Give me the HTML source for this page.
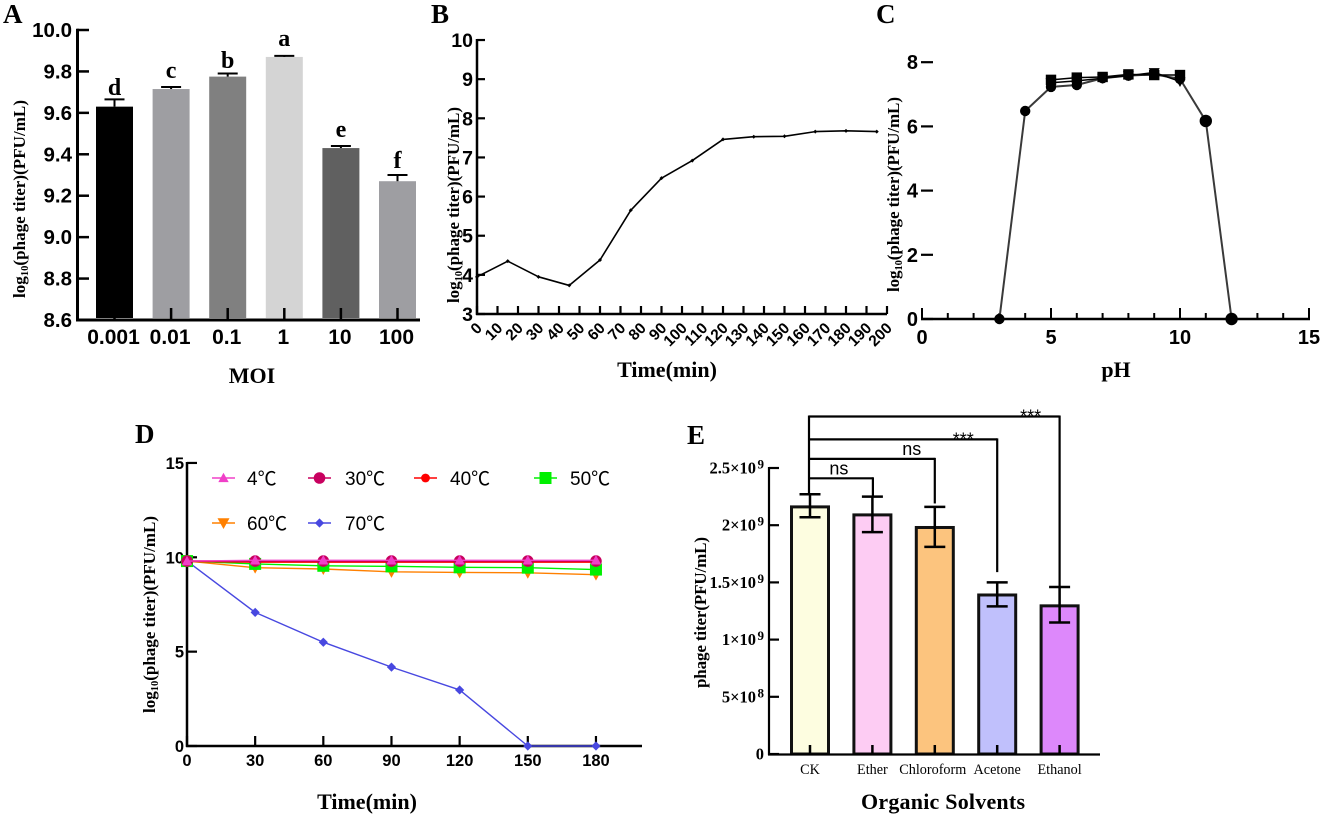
<!DOCTYPE html>
<html lang="en">
<head>
<meta charset="utf-8">
<title>Phage characterisation panels</title>
<style>
html,body{margin:0;padding:0;background:#fff;width:1325px;height:819px;overflow:hidden}
svg{display:block}
text{fill:#000}
.sans{font-family:"Liberation Sans",sans-serif}
.serif{font-family:"Liberation Serif",serif}
.bold{font-weight:bold}
.panel{font-family:"Liberation Serif",serif;font-weight:bold;font-size:27px}
.title{font-family:"Liberation Serif",serif;font-weight:bold;font-size:22px;text-anchor:middle}
.ytitle{font-family:"Liberation Serif",serif;font-weight:bold;font-size:17px}
</style>
</head>
<body>
<svg id="fig" xmlns="http://www.w3.org/2000/svg" width="1325" height="819" viewBox="0 0 1325 819">
  <rect width="1325" height="819" fill="#fff"/>

  <text class="panel" x="3" y="23">A</text>
  <text class="panel" x="431" y="23">B</text>
  <text class="panel" x="876" y="23">C</text>
  <text class="panel" x="135" y="443">D</text>
  <text class="panel" x="687" y="444">E</text>

  <text class="title" x="252" y="383">MOI</text>
  <text class="title" x="667" y="377">Time(min)</text>
  <text class="title" x="1116" y="377">pH</text>
  <text class="title" x="367" y="809">Time(min)</text>
  <text class="title" x="943" y="809" textLength="164">Organic Solvents</text>

  <text class="ytitle" transform="translate(25 298) rotate(-90)" textLength="198">log<tspan font-size="10.5" dy="3">10</tspan><tspan dy="-3">(phage titer)(PFU/mL)</tspan></text>
  <text class="ytitle" transform="translate(459 303) rotate(-90)" textLength="196">log<tspan font-size="10.5" dy="3">10</tspan><tspan dy="-3">(phage titer)(PFU/mL)</tspan></text>
  <text class="ytitle" transform="translate(899 292) rotate(-90)" textLength="195">log<tspan font-size="10.5" dy="3">10</tspan><tspan dy="-3">(phage titer)(PFU/mL)</tspan></text>
  <text class="ytitle" transform="translate(155 713) rotate(-90)" textLength="197">log<tspan font-size="10.5" dy="3">10</tspan><tspan dy="-3">(phage titer)(PFU/mL)</tspan></text>
  <text class="ytitle" transform="translate(706 688) rotate(-90)" textLength="151">phage titer(PFU/mL)</text>

  <g id="panel-a"></g>
  <g id="panel-b"></g>
  <g id="panel-c"></g>
  <g id="panel-d"></g>
  <g id="panel-e"></g>
</svg>

<script>
/* ---------- Panel A data ---------- */
const moiCategories = ['0.001', '0.01', '0.1', '1', '10', '100'];
const moiValues = [9.63, 9.715, 9.775, 9.87, 9.43, 9.27];
const moiErrorTops = [9.665, 9.725, 9.79, 9.875, 9.44, 9.30];
const moiLetters = ['d', 'c', 'b', 'a', 'e', 'f'];
const moiLetterLevels = [9.686, 9.768, 9.817, 9.923, 9.483, 9.334];
const moiColors = ['#000000', '#9e9ea2', '#808080', '#d4d4d4', '#606060', '#9e9ea2'];
const moiTicks = [8.6, 8.8, 9.0, 9.2, 9.4, 9.6, 9.8, 10.0];

/* ---------- Panel B data ---------- */
const growthTimes = [0, 15, 30, 45, 60, 75, 90, 105, 120, 135, 150, 165, 180, 195];
const growthValues = [3.95, 4.35, 3.95, 3.73, 4.38, 5.65, 6.47, 6.92, 7.46, 7.53, 7.54, 7.66, 7.68, 7.66];
const growthYTicks = [3, 4, 5, 6, 7, 8, 9, 10];
const growthXTicks = [0, 10, 20, 30, 40, 50, 60, 70, 80, 90, 100, 110, 120, 130, 140, 150, 160, 170, 180, 190, 200];

/* ---------- Panel C data ---------- */
const phCircleX = [3, 4, 5, 6, 7, 8, 9, 10, 11, 12];
const phCircleY = [0, 6.48, 7.23, 7.29, 7.5, 7.58, 7.62, 7.48, 6.17, 0];
const phSquareX = [5, 6, 7, 8, 9, 10];
const phSquareY = [7.45, 7.52, 7.54, 7.62, 7.6, 7.6];
const phTriangleX = [5, 6, 7, 8, 9, 10];
const phTriangleY = [7.36, 7.42, 7.5, 7.58, 7.68, 7.4];
const phYTicks = [0, 2, 4, 6, 8];
const phXTicks = [0, 1, 2, 3, 4, 5, 6, 7, 8, 9, 10, 11, 12, 13, 14, 15];
const phXLabels = [0, 5, 10, 15];

/* ---------- Panel D data ---------- */
const thermalTimes = [0, 30, 60, 90, 120, 150, 180];
const thermal4 = [9.8, 9.84, 9.84, 9.84, 9.84, 9.84, 9.84];
const thermal30 = [9.8, 9.8, 9.8, 9.8, 9.8, 9.8, 9.8];
const thermal40 = [9.8, 9.76, 9.76, 9.76, 9.76, 9.76, 9.76];
const thermal50 = [9.8, 9.65, 9.55, 9.52, 9.47, 9.45, 9.35];
const thermal60 = [9.8, 9.45, 9.38, 9.23, 9.2, 9.18, 9.08];
const thermal70 = [9.8, 7.08, 5.5, 4.18, 2.97, 0, 0];
const thermalYTicks = [0, 5, 10, 15];
const thermalXTicks = [0, 30, 60, 90, 120, 150, 180];

/* ---------- Panel E data ---------- */
const solventCategories = ['CK', 'Ether', 'Chloroform', 'Acetone', 'Ethanol'];
const solventValues = [2.16e9, 2.09e9, 1.98e9, 1.39e9, 1.295e9];
const solventErrorHigh = [2.27e9, 2.25e9, 2.16e9, 1.50e9, 1.46e9];
const solventErrorLow = [2.07e9, 1.94e9, 1.81e9, 1.29e9, 1.15e9];
const solventColors = ['#fdfde0', '#fdccf3', '#fcc47e', '#c0c0fc', '#dd88fb'];
const solventTicks = [0, 5e8, 1e9, 1.5e9, 2e9, 2.5e9];
const solventTickLabels = ['0', '5×10', '1×10', '1.5×10', '2×10', '2.5×10'];
const solventTickExponents = ['', '8', '9', '9', '9', '9'];
const bracketTargets = [1, 2, 3, 4];
const bracketLevels = [2.41e9, 2.58e9, 2.75e9, 2.95e9];
const bracketDrops = [2.25e9, 2.19e9, 1.59e9, 1.46e9];
const bracketLabels = ['ns', 'ns', '***', '***'];

/* ---------- Drawing helpers ---------- */
const NS = 'http://www.w3.org/2000/svg';
function mk(parent, tag, attrs, name) {
  const el = document.createElementNS(NS, tag);
  for (const k in attrs) el.setAttribute(k, attrs[k]);
  
  
  parent.appendChild(el);
  return el;
}
function ln(p, x1, y1, x2, y2, w, c, name) {
  return mk(p, 'line', {x1: x1, y1: y1, x2: x2, y2: y2, stroke: c, 'stroke-width': w}, name);
}
function txt(p, x, y, s, size, anchor, cls, name) {
  const t = mk(p, 'text', {x: x, y: y, 'font-size': size, 'text-anchor': anchor, 'class': cls}, name);
  t.textContent = s;
  return t;
}
function marker(p, kind, x, y, s, c, name) {
  if (kind === 'circle') return mk(p, 'circle', {cx: x, cy: y, r: s, fill: c}, name);
  if (kind === 'square') return mk(p, 'rect', {x: x - s, y: y - s, width: 2 * s, height: 2 * s, fill: c}, name);
  let pts;
  if (kind === 'up') pts = [[x, y - s], [x + s, y + s * 0.8], [x - s, y + s * 0.8]];
  if (kind === 'down') pts = [[x, y + s], [x + s, y - s * 0.8], [x - s, y - s * 0.8]];
  if (kind === 'diamond') pts = [[x, y - s], [x + s, y], [x, y + s], [x - s, y]];
  return mk(p, 'polygon', {points: pts.map(q => q.join(',')).join(' '), fill: c}, name);
}
function series(p, xs, ys, fx, fy, w, c, name) {
  const pts = xs.map((v, i) => fx(v) + ',' + fy(ys[i])).join(' ');
  return mk(p, 'polyline', {points: pts, fill: 'none', stroke: c, 'stroke-width': w, 'stroke-linejoin': 'round'}, name);
}
const BOLD = 'sans bold';

/* ---------- Panel A ---------- */
(function () {
  const g = document.getElementById('panel-a');
  const x = i => 114.5 + i * 56.6;
  const y = v => 320 - (v - 8.6) / 1.4 * 290;
  moiValues.forEach((v, i) => {
    mk(g, 'rect', {x: x(i) - 18.5, y: y(v), width: 37, height: Math.max(0, 318 - y(v)), fill: moiColors[i]}, 'bar-moi-' + moiCategories[i]);
    ln(g, x(i), y(v), x(i), y(moiErrorTops[i]), 2, '#000', 'error-bar-moi-' + moiCategories[i]);
    ln(g, x(i) - 10, y(moiErrorTops[i]), x(i) + 10, y(moiErrorTops[i]), 2, '#000', 'error-cap-moi-' + moiCategories[i]);
    txt(g, x(i), y(moiLetterLevels[i]), moiLetters[i], 24, 'middle', 'serif bold', 'significance-letter-' + moiLetters[i]);
    ln(g, x(i), 308, x(i), 320, 2.5, '#000', 'x-tick-moi-' + moiCategories[i]);
    txt(g, x(i) - 1, 344, moiCategories[i], 21, 'middle', BOLD, 'x-tick-label-moi-' + moiCategories[i]);
  });
  ln(g, 77.5, 28.7, 77.5, 321, 3, '#000', 'y-axis-a');
  ln(g, 76, 320, 420, 320, 3, '#000', 'x-axis-a');
  moiTicks.forEach(v => {
    ln(g, 77, y(v), 89, y(v), 2.5, '#000', 'y-tick-a-' + v);
    txt(g, 72, y(v) + 7, v.toFixed(1), 20.5, 'end', BOLD, 'y-tick-label-a-' + v);
  });
})();

/* ---------- Panel B ---------- */
(function () {
  const g = document.getElementById('panel-b');
  const x = v => 477 + v * 2.05;
  const y = v => 314 - (v - 3) * 39.14;
  ln(g, 477, 39, 477, 315, 2.5, '#000', 'y-axis-b');
  ln(g, 476, 314, 887, 314, 2.5, '#000', 'x-axis-b');
  growthYTicks.forEach(v => {
    ln(g, 477, y(v), 485, y(v), 2.2, '#000', 'y-tick-b-' + v);
    txt(g, 473, y(v) + 7, v, 19.5, 'end', BOLD, 'y-tick-label-b-' + v);
  });
  growthXTicks.forEach(v => {
    ln(g, x(v), 306, x(v), 314, 2.2, '#000', 'x-tick-b-' + v);
    const t = txt(g, 0, 0, v, 15.5, 'end', BOLD, 'x-tick-label-b-' + v);
    t.setAttribute('transform', 'translate(' + (x(v) + 6) + ' ' + 329 + ') rotate(-45)');
  });
  series(g, growthTimes, growthValues, x, y, 1.6, '#000', 'line-growth-curve');
  growthTimes.forEach((v, i) => {
    marker(g, 'diamond', x(v), y(growthValues[i]), 2, '#000', 'point-growth-' + v);
  });
})();

/* ---------- Panel C ---------- */
(function () {
  const g = document.getElementById('panel-c');
  const x = v => 922 + v * 25.8;
  const y = v => 319 - v * 32.1;
  ln(g, 921, 319, 1310, 319, 2.5, '#000', 'x-axis-c');
  phYTicks.forEach(v => {
    ln(g, 921, y(v), 933, y(v), 2.2, '#000', 'y-tick-c-' + v);
    txt(g, 918, y(v) + 7, v, 20, 'end', BOLD, 'y-tick-label-c-' + v);
  });
  phXTicks.forEach(v => {
    const major = v % 5 === 0;
    ln(g, x(v), major ? 308 : 313, x(v), 319, 2, '#000', 'x-tick-c-' + v);
  });
  phXLabels.forEach(v => {
    txt(g, x(v), 344, v, 20, 'middle', BOLD, 'x-tick-label-c-' + v);
  });
  series(g, phCircleX, phCircleY, x, y, 2, '#3a3a3a', 'line-ph-circles');
  series(g, phSquareX, phSquareY, x, y, 1.5, '#000', 'line-ph-squares');
  series(g, phTriangleX, phTriangleY, x, y, 1.5, '#000', 'line-ph-triangles');
  phCircleX.forEach((v, i) => {
    marker(g, 'circle', x(v), y(phCircleY[i]), v >= 11 ? 6.2 : 5.2, '#000', 'point-ph-circle-' + v);
  });
  phSquareX.forEach((v, i) => {
    marker(g, 'square', x(v), y(phSquareY[i]), 5.2, '#000', 'point-ph-square-' + v);
  });
  phTriangleX.forEach((v, i) => {
    marker(g, 'down', x(v), y(phTriangleY[i]), 5.5, '#000', 'point-ph-triangle-' + v);
  });
})();

/* ---------- Panel D ---------- */
(function () {
  const g = document.getElementById('panel-d');
  const x = v => 187 + v * 2.272;
  const y = v => 746 - v * 18.87;
  ln(g, 187, 462, 187, 747, 2.5, '#000', 'y-axis-d');
  ln(g, 186, 746, 642, 746, 2.5, '#000', 'x-axis-d');
  thermalYTicks.forEach(v => {
    ln(g, 187, y(v), 197, y(v), 2.2, '#000', 'y-tick-d-' + v);
    txt(g, 184, y(v) + 6, v, 16.5, 'end', BOLD, 'y-tick-label-d-' + v);
  });
  thermalXTicks.forEach(v => {
    ln(g, x(v), 736, x(v), 746, 2.2, '#000', 'x-tick-d-' + v);
    txt(g, x(v), 766, v, 16.5, 'middle', BOLD, 'x-tick-label-d-' + v);
  });
  const defs = [
    {label: '70℃', vals: thermal70, c: '#4848e0', k: 'diamond', s: 4.6, w: 1.4, lx: 308, tx: 345, ly: 523},
    {label: '60℃', vals: thermal60, c: '#ff8000', k: 'down', s: 6, w: 1.4, lx: 212, tx: 247, ly: 523},
    {label: '50℃', vals: thermal50, c: '#00f000', k: 'square', s: 6, w: 1.4, lx: 534, tx: 570, ly: 478},
    {label: '40℃', vals: thermal40, c: '#ff0000', k: 'circle', s: 4.4, w: 2, lx: 414, tx: 450, ly: 478},
    {label: '30℃', vals: thermal30, c: '#c8005f', k: 'circle', s: 5.8, w: 1.4, lx: 308, tx: 345, ly: 478},
    {label: '4℃', vals: thermal4, c: '#f040c8', k: 'up', s: 5.2, w: 1.4, lx: 212, tx: 247, ly: 478}
  ];
  defs.forEach(d => {
    series(g, thermalTimes, d.vals, x, y, d.w, d.c, 'line-' + d.label);
    thermalTimes.forEach((t, i) => {
      marker(g, d.k, x(t), y(d.vals[i]), d.s, d.c, 'point-' + d.label + '-' + t);
    });
    ln(g, d.lx, d.ly, d.lx + 23, d.ly, 1.6, d.c, 'legend-line-' + d.label);
    marker(g, d.k, d.lx + 11.5, d.ly, d.s, d.c, 'legend-marker-' + d.label);
    const t = txt(g, d.tx, d.ly + 7, d.label, 19, 'start', 'sans', 'legend-entry-' + d.label);
    t.setAttribute('style', 'font-family:"Liberation Sans","Noto Sans CJK SC",sans-serif');
  });
})();

/* ---------- Panel E ---------- */
(function () {
  const g = document.getElementById('panel-e');
  const x = i => 810 + i * 62.4;
  const y = v => 754 - v / 1e9 * 114.4;
  solventCategories.forEach((c, i) => {
    mk(g, 'rect', {x: x(i) - 18.5, y: y(solventValues[i]), width: 37, height: 754 - y(solventValues[i]), fill: solventColors[i], stroke: '#111', 'stroke-width': 3}, 'bar-' + c);
    ln(g, x(i), 745, x(i), 754, 2.5, '#000', 'x-tick-' + c);
    txt(g, x(i) + (i === 2 ? -2 : 0), 774, c, 14.2, 'middle', 'serif', 'x-tick-label-' + c);
    ln(g, x(i), y(solventErrorHigh[i]), x(i), y(solventErrorLow[i]), 2.5, '#000', 'error-bar-' + c);
    ln(g, x(i) - 10.5, y(solventErrorHigh[i]), x(i) + 10.5, y(solventErrorHigh[i]), 2.5, '#000', 'error-cap-high-' + c);
    ln(g, x(i) - 10.5, y(solventErrorLow[i]), x(i) + 10.5, y(solventErrorLow[i]), 2.5, '#000', 'error-cap-low-' + c);
  });
  ln(g, 769, 467, 769, 755, 2.2, '#000', 'y-axis-e');
  ln(g, 768, 754.5, 1100, 754.5, 2.2, '#000', 'x-axis-e');
  solventTicks.forEach((v, i) => {
    ln(g, 769, y(v), 779, y(v), 2.2, '#000', 'y-tick-e-' + i);
    const t = txt(g, 764, y(v) + 5.5, solventTickLabels[i], 16.5, 'end', 'serif bold', 'y-tick-label-e-' + i);
    if (solventTickExponents[i]) {
      const s = document.createElementNS(NS, 'tspan');
      s.setAttribute('font-size', '13');
      s.setAttribute('dy', '-5');
      s.setAttribute('dx', '1.5');
      s.textContent = solventTickExponents[i];
      t.appendChild(s);
    }
  });
  ln(g, x(0) - 1, y(bracketLevels[3]) - 1, x(0) - 1, y(solventErrorHigh[0]), 2.2, '#000', 'bracket-stem');
  bracketTargets.forEach((target, k) => {
    const tx = x(target) + [0.5, 0, 0, 0][k];
    ln(g, x(0) - 1, y(bracketLevels[k]), tx, y(bracketLevels[k]), 2.2, '#000', 'bracket-top-' + k);
    ln(g, tx, y(bracketLevels[k]) - 1, tx, y(bracketDrops[k]), 2.2, '#000', 'bracket-drop-' + k);
    const isStar = bracketLabels[k] === '***';
    const cx = tx + [-34, -23, -34, -29][k];
    txt(g, cx, y(bracketLevels[k]) + (isStar ? 6 : -4), bracketLabels[k], isStar ? 18 : 18, 'middle', 'sans', 'significance-label-' + k);
  });
})();
</script>
</body>
</html>
